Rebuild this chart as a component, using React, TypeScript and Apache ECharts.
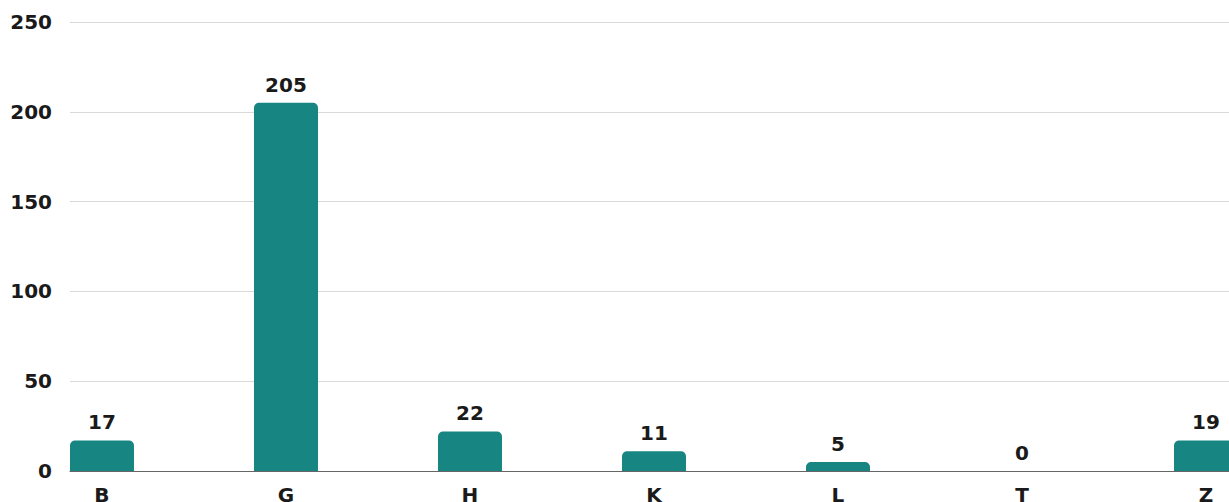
import React, { useEffect, useRef } from "react";
import * as echarts from "echarts";

const categories = ["B", "G", "H", "K", "L", "T", "Z"];
const barValues = [17, 205, 22, 11, 5, 0, 17];
const labelValues = ["17", "205", "22", "11", "5", "0", "19"];
const yTicks = [0, 50, 100, 150, 200, 250];

export default function App() {
  const ref = useRef<HTMLDivElement>(null);
  useEffect(() => {
    if (!ref.current) return;
    const chart = echarts.init(ref.current, null, { renderer: "svg" });
    const font = "'DejaVu Sans', sans-serif";
    chart.setOption({
      animation: false,
      backgroundColor: "#ffffff",
      grid: {
        left: 70,
        right: 0,
        top: 22,
        bottom: 31,
        containLabel: false,
        outerBoundsMode: "none",
      },
      xAxis: {
        type: "value",
        min: -0.1739,
        max: 6.125,
        splitLine: { show: false },
        axisLine: { show: true, onZero: false, lineStyle: { color: "#666666", width: 1 } },
        axisTick: { show: false },
        axisLabel: {
          customValues: categories.map((_, i) => i),
          formatter: (v: number) => categories[Math.round(v)] ?? "",
          color: "#1a1a1a",
          fontSize: 20,
          fontWeight: "bold",
          fontFamily: font,
          margin: 14,
        },
      },
      yAxis: {
        type: "value",
        min: yTicks[0],
        max: yTicks[yTicks.length - 1],
        interval: 50,
        axisLine: { show: false },
        axisTick: { show: false },
        splitLine: { lineStyle: { color: "#d9d9d9", width: 1 } },
        axisLabel: {
          color: "#1a1a1a",
          fontSize: 20,
          fontWeight: "bold",
          fontFamily: font,
          margin: 18,
          verticalAlign: "middle",
        },
      },
      series: [
        {
          type: "bar",
          barWidth: 64,
          clip: false,
          data: barValues.map((v, i) => [i, v]),
          itemStyle: { color: "#178582", borderRadius: [5, 5, 0, 0] },
          label: {
            show: true,
            position: "top",
            distance: 8,
            color: "#1a1a1a",
            fontSize: 20,
            fontWeight: "bold",
            fontFamily: font,
            formatter: (p: any) => labelValues[p.dataIndex],
          },
        },
      ],
    });
    return () => chart.dispose();
  }, []);
  return (
    <div
      ref={ref}
      style={{ position: "fixed", left: 0, top: 0, width: 1229, height: 502 }}
    />
  );
}
